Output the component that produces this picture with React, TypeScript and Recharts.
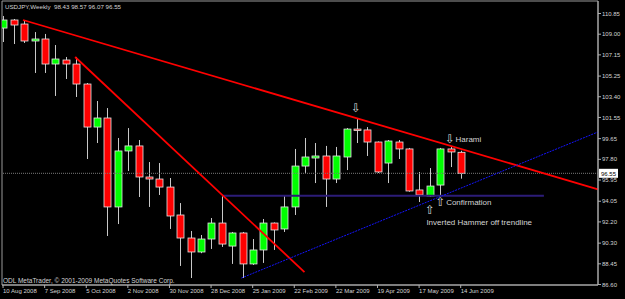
import React from 'react';
import { ComposedChart, Bar, XAxis, YAxis, ReferenceLine, ReferenceArea, ReferenceDot } from 'recharts';

// Weekly USDJPY candles, 10 Aug 2008 .. 14 Jun 2009
const weekIndex = Array.from({ length: 45 }, (_, i) => i);
const opens = [109.55, 110.27, 109.91, 108.39, 108.57, 106.33, 106.69, 106.33, 104.54, 100.69,
  101.50, 93.54, 98.55, 99.00, 96.22, 96.04, 95.32, 92.82, 90.76, 89.51,
  90.67, 92.10, 90.04, 91.21, 88.44, 89.69, 92.10, 91.57, 93.54, 97.20,
  97.92, 98.10, 96.04, 98.01, 100.51, 100.43, 99.35, 97.47, 99.35, 98.73,
  95.06, 94.52, 95.50, 98.73, 98.43];
const highs = [110.63, 110.36, 110.27, 109.19, 109.02, 108.03, 106.96, 106.96, 104.63, 103.02,
  102.39, 99.71, 100.60, 99.53, 97.56, 97.47, 96.13, 93.89, 91.39, 91.03,
  92.55, 94.61, 91.30, 91.30, 90.67, 92.46, 92.15, 94.52, 98.73, 99.71,
  99.26, 99.00, 98.91, 100.60, 101.41, 100.69, 99.40, 99.53, 99.53, 98.82,
  96.67, 97.02, 98.82, 98.91, 98.57];
const lows = [108.30, 108.12, 108.21, 105.53, 105.53, 103.47, 104.99, 103.38, 97.83, 99.26,
  90.94, 92.01, 96.76, 94.43, 93.54, 94.61, 91.57, 88.26, 87.18, 89.40,
  89.78, 89.96, 88.44, 87.18, 88.35, 88.53, 89.69, 91.30, 92.82, 96.58,
  95.68, 93.54, 95.68, 96.84, 99.26, 98.10, 96.58, 95.68, 97.83, 94.90,
  93.98, 94.45, 94.52, 97.11, 96.07];
const closes = [110.27, 109.82, 108.39, 108.57, 106.33, 106.78, 106.33, 104.54, 100.69, 101.50,
  93.54, 98.55, 99.00, 96.22, 96.04, 95.32, 92.73, 90.76, 89.51, 90.67,
  92.10, 90.22, 91.21, 88.44, 89.69, 92.10, 91.48, 93.54, 97.20, 98.01,
  98.10, 96.04, 98.10, 100.51, 100.43, 99.35, 96.67, 99.44, 98.73, 94.97,
  94.61, 95.41, 98.73, 98.46, 96.55];

const dateTickIndex = [0, 4, 8, 12, 16, 20, 24, 28, 32, 36, 40, 44];
const dateTickLabels = ['10 Aug 2008', '7 Sep 2008', '5 Oct 2008', '2 Nov 2008', '30 Nov 2008', '28 Dec 2008',
  '25 Jan 2009', '22 Feb 2009', '22 Mar 2009', '19 Apr 2009', '17 May 2009', '14 Jun 2009'];
const priceTicks = [110.85, 109.00, 107.15, 105.25, 103.40, 101.55, 99.65, 97.80, 95.95, 94.05, 92.20, 90.30, 88.45, 86.60];
const currentPrice = 96.55;

// Drawn objects (in data coordinates: week index, price)
const redTrend1 = [{ x: 1.92, y: 110.27 }, { x: 57.2, y: 95.12 }];
const redTrend2 = [{ x: 6.93, y: 106.96 }, { x: 28.98, y: 87.71 }];
const blueTrend = [{ x: 22.92, y: 87.18 }, { x: 57.2, y: 100.25 }];
const supportLine = [{ x: 21.09, y: 94.55 }, { x: 52.0, y: 94.55 }];

const X_DOMAIN: [number, number] = [-0.1, 57.2];
const Y_DOMAIN: [number, number] = [86.555, 111.97];

const data = weekIndex.map((i) => ({
  i,
  open: opens[i],
  high: highs[i],
  low: lows[i],
  close: closes[i],
}));

const FONT = '"Liberation Sans", Arial, sans-serif';
const TXT = '#d4d4d4';

const Candle = (props: any) => {
  const { x, y, width, height, payload } = props;
  if (!payload) return null;
  const { open, close, high, low } = payload;
  const top = Math.min(y, y + height);
  const h = Math.abs(height);
  const ppu = h / (high - low);
  const cx = Math.round(x + width / 2) + 0.5;
  const yO = top + (high - open) * ppu;
  const yC = top + (high - close) * ppu;
  const bTop = Math.min(yO, yC);
  const bBot = Math.max(yO, yC);
  const up = close >= open;
  return (
    <g>
      <line x1={cx} x2={cx} y1={top} y2={top + h} stroke="#c8c8c8" strokeWidth={1} />
      <rect x={cx - 3.5} y={bTop} width={7} height={Math.max(bBot - bTop, 1.5)}
        fill={up ? '#00ff00' : '#ff0000'} stroke="#e6e6e6" strokeWidth={0.8} />
    </g>
  );
};

const DateTick = (props: any) => {
  const { x, y, payload } = props;
  const k = dateTickIndex.indexOf(payload.value);
  return (
    <text x={x} y={y + 5} fill={TXT} fontSize={6} fontFamily={FONT} textAnchor="start">
      {k >= 0 ? dateTickLabels[k] : ''}
    </text>
  );
};

const PriceTag = (props: any) => {
  const { cx, cy } = props;
  if (cx == null) return null;
  return (
    <g>
      <rect x={cx + 1} y={cy - 4.5} width={19} height={9} fill="#ffffff" />
      <text x={cx + 3} y={cy + 2.2} fontSize={6} fontFamily={FONT} fill="#000">{currentPrice.toFixed(2)}</text>
    </g>
  );
};

const makeNote = (text: string, size: number, family: string) => (props: any) => {
  const { cx, cy } = props;
  if (cx == null) return null;
  return (
    <text x={cx} y={cy} fontSize={size} fontFamily={family} fill={TXT} dominantBaseline="central">{text}</text>
  );
};

const ARROW_FONT = '"DejaVu Sans", sans-serif';

export default function App() {
  return (
    <div style={{ position: 'absolute', left: 0, top: 0, width: 625, height: 299, background: '#000', overflow: 'hidden' }}>
      <ComposedChart width={625} height={299} data={data} margin={{ top: 1, right: 0, bottom: 0, left: 2 }}>
        <ReferenceArea x1={X_DOMAIN[0]} x2={X_DOMAIN[1]} y1={Y_DOMAIN[0]} y2={Y_DOMAIN[1]}
          fill="none" stroke="#9a9a9a" strokeWidth={1} ifOverflow="visible" />
        <XAxis type="number" dataKey="i" domain={X_DOMAIN} allowDataOverflow ticks={dateTickIndex} interval={0}
          height={14} tickSize={3} tickMargin={0} stroke="#b0b0b0" tick={<DateTick />} />
        <YAxis type="number" orientation="right" domain={Y_DOMAIN} allowDataOverflow ticks={priceTicks} interval={0}
          width={27} tickSize={3} tickMargin={1} stroke="#b0b0b0"
          tickFormatter={(v: number) => v.toFixed(2)}
          tick={{ fill: TXT, fontSize: 6, fontFamily: FONT }} />
        <ReferenceLine y={currentPrice} stroke="#7a7a7a" strokeDasharray="1 1" strokeWidth={1} />
        <ReferenceLine segment={supportLine} stroke="#2c1c78" strokeWidth={2} />
        <Bar dataKey={(d: any) => [d.low, d.high]} barSize={7} shape={<Candle />} isAnimationActive={false} />
        <ReferenceLine segment={redTrend1} stroke="#ff0000" strokeWidth={1.8} />
        <ReferenceLine segment={redTrend2} stroke="#ff0000" strokeWidth={1.8} />
        <ReferenceLine segment={blueTrend} stroke="#1414ff" strokeWidth={1} strokeDasharray="2 1" />
        <ReferenceDot x={57.2} y={currentPrice} r={0} shape={<PriceTag />} />
        <ReferenceDot x={33.45} y={102.39} r={0} shape={makeNote('⇩', 12, ARROW_FONT)} />
        <ReferenceDot x={42.5} y={99.62} r={0} shape={makeNote('⇩', 12, ARROW_FONT)} />
        <ReferenceDot x={43.5} y={99.62} r={0} shape={makeNote('Harami', 8, FONT)} />
        <ReferenceDot x={41.58} y={93.94} r={0} shape={makeNote('⇧', 12, ARROW_FONT)} />
        <ReferenceDot x={42.6} y={93.94} r={0} shape={makeNote('Confirmation', 8, FONT)} />
        <ReferenceDot x={40.56} y={93.31} r={0} shape={makeNote('⇧', 12, ARROW_FONT)} />
        <ReferenceDot x={40.7} y={92.13} r={0} shape={makeNote('Inverted Hammer off trendline', 8, FONT)} />
      </ComposedChart>
      <div style={{ position: 'absolute', left: 5, top: 3, fontFamily: FONT, fontSize: 6.2, color: TXT, whiteSpace: 'pre', lineHeight: '8px' }}>
        {'USDJPY,Weekly  98.43 98.57 96.07 96.55'}
      </div>
      <div style={{ position: 'absolute', left: 3, top: 277, fontFamily: FONT, fontSize: 6.5, color: TXT, whiteSpace: 'pre', lineHeight: '8px' }}>
        {'ODL MetaTrader, © 2001-2009 MetaQuotes Software Corp.'}
      </div>
    </div>
  );
}
